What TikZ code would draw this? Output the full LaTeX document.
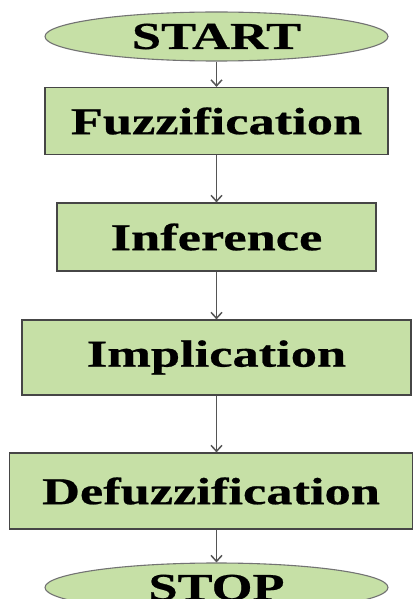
\documentclass[tikz,border=0pt]{standalone}
\usepackage{fontspec}
\newfontfamily\flowfont[FakeStretch=1.38,FakeBold=0.6]{Liberation Serif}
\usepackage{tikz}
\usetikzlibrary{arrows.meta,shapes.geometric}
\definecolor{boxgreen}{RGB}{198,224,166}
\definecolor{edgegray}{RGB}{70,70,70}
\definecolor{arrowgray}{RGB}{85,85,85}
\tikzset{
  flowbox/.style={draw=edgegray,line width=1.2pt,fill=boxgreen,rectangle,inner sep=0pt,
    font=\flowfont\bfseries\fontsize{38}{40}\selectfont},
  terminal/.style={draw=gray!90!black,line width=1.1pt,fill=boxgreen,ellipse,inner sep=0pt,
    minimum width=343pt,minimum height=49pt,
    font=\flowfont\bfseries\fontsize{38}{40}\selectfont},
  flowarrow/.style={draw=arrowgray,line width=1.5pt,-{Straight Barb[length=6pt,width=11pt]}}
}
\begin{document}
\begin{tikzpicture}[x=1pt,y=-1pt]
\path[use as bounding box] (0,0) rectangle (414,599);
\clip (0,0) rectangle (414,599);
\fill[white] (0,0) rectangle (414,599);
\node[terminal] (start) at (216.5,36.5) {START};
\node[flowbox,minimum width=343pt,minimum height=67pt] (fuzz) at (216.5,121) {Fuzzification};
\node[flowbox,minimum width=319pt,minimum height=68pt] (infer) at (216.5,237) {Inference};
\node[flowbox,minimum width=389pt,minimum height=75pt] (impl) at (216.5,357.5) {Implication};
\node[flowbox,minimum width=403pt,minimum height=76pt] (defuzz) at (211,491) {Defuzzification};
\node[terminal] (stop) at (216.5,587.5) {STOP};
\draw[flowarrow] (start) -- (fuzz);
\draw[flowarrow] (fuzz) -- (infer);
\draw[flowarrow] (infer) -- (impl);
\draw[flowarrow] (impl.south) -- (impl.south |- defuzz.north);
\draw[flowarrow] (defuzz.south -| stop.north) -- (stop);
\end{tikzpicture}
\end{document}
